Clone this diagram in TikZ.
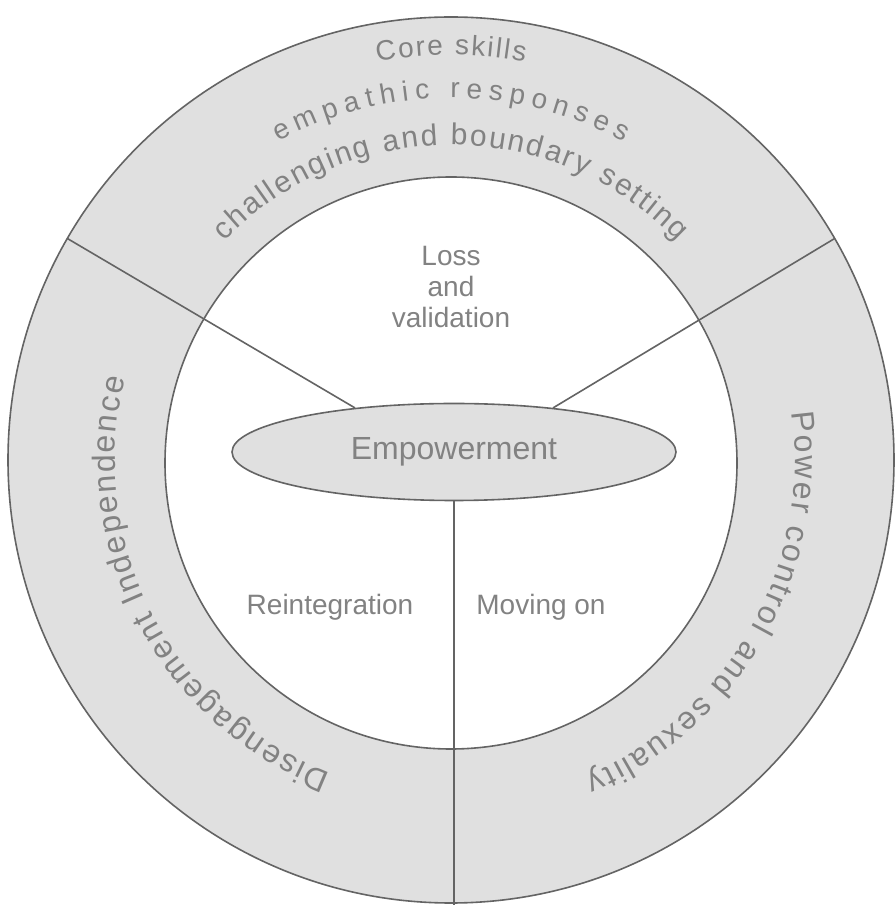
\documentclass[tikz,border=0pt]{standalone}
\usepackage{fontspec}
\setmainfont{Liberation Sans}
\usetikzlibrary{calc,shapes.geometric,decorations.text}
\definecolor{ringfill}{RGB}{224,224,224}
\definecolor{edge}{RGB}{100,100,100}
\definecolor{txt}{RGB}{130,130,130}
\newcommand{\labelfont}{\fontsize{28}{31}\selectfont}
\begin{document}
\begin{tikzpicture}[x=1pt,y=1pt,
  ringtext/.style 2 args={decorate, decoration={text along path, text align=fit to path,
      text color=txt, text={|\fontsize{#1}{#1}\selectfont|#2}}},
  edgeline/.style={draw=edge, line width=1.6pt},
  label/.style={text=txt, font=\labelfont, align=center, inner sep=0pt}]
\useasboundingbox (0,0) rectangle (895,908);
\fill[white] (0,0) rectangle (895,908);
\coordinate (O) at (451,448);
\coordinate (I) at (451,445);
% shaded ring between the two circles
\path[fill=ringfill, even odd rule] (O) circle[radius=443] (I) circle[radius=286];
\draw[edgeline] (O) circle[radius=443];
\draw[edgeline] (I) circle[radius=286];
% central ellipse
\node[ellipse, draw=edge, line width=1.6pt, fill=ringfill, minimum width=444pt,
  minimum height=97pt, inner sep=0pt, text=txt, font=\fontsize{32}{36}\selectfont]
  (emp) at (454,456) {Empowerment};
% radial dividers
\coordinate (a150) at ($(O)+(150:443)$);
\coordinate (a30) at ($(O)+(30:443)$);
\coordinate (bot) at (454,3);
\draw[edgeline] (a150) -- (emp.156);
\draw[edgeline] (a30) -- (emp.24);
\draw[edgeline] (emp.south) -- (bot);
% inner labels
\node[label] (loss) at (451,621) {Loss\\and\\validation};
\node[label] (reint) at (330,301) {Reintegration};
\node[label] (moving) at (541,301) {Moving on};
% curved texts in the ring
\path[ringtext={28}{Core skills}] ($(O)+(100.5:405)$) arc[start angle=100.5, end angle=79.5, radius=405];
\path[ringtext={28}{empathic responses}] ($(O)+(118.5:362)$) arc[start angle=118.5, end angle=61.5, radius=362];
\path[ringtext={30}{challenging and boundary setting}] ($(O)+(136:315)$) arc[start angle=136, end angle=44, radius=315];
\path[ringtext={32}{Disengagement Independence}] ($(O)+(249:336)$) arc[start angle=249, end angle=166, radius=336];
\path[ringtext={32}{Power control and sexuality}] ($(O)+(8:344)$) arc[start angle=8, end angle=-67, radius=344];
\end{tikzpicture}
\end{document}
